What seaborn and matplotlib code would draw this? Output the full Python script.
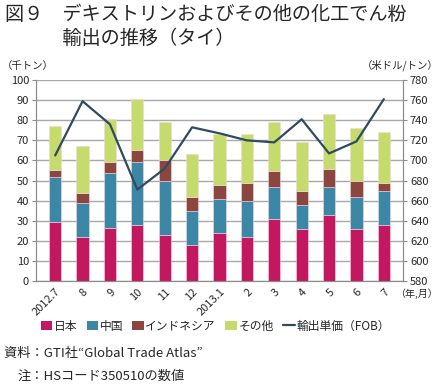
import matplotlib
matplotlib.use('Agg')
import pandas as pd
import seaborn as sns
import matplotlib.pyplot as plt
from matplotlib.patches import Patch
from matplotlib.lines import Line2D

# データ（千トン、米ドル/トン）
months = ['2012.7', '8', '9', '10', '11', '12', '2013.1', '2', '3', '4', '5', '6', '7']
japan = [29.5, 22, 26.5, 28, 23, 18, 24, 22, 31, 26, 33, 26, 28]
china = [22.5, 17, 27.5, 31, 27, 17, 17, 18, 16, 12, 14, 16, 17]
indonesia = [3.5, 5, 5, 6, 10, 7, 7, 9, 8, 7, 9, 8, 4]
others = [21.5, 23, 21.5, 25.5, 19, 21, 25, 24, 24, 24, 27, 26, 25]
price = [705, 759, 736, 671, 692, 733, 727, 720, 718, 741, 707, 719, 761]

series_names = ['日本', '中国', 'インドネシア', 'その他']
colors = ['#C2185F', '#3C87A6', '#8C4640', '#C5DC6C']
line_color = '#2E4B63'
line_name = '輸出単価（FOB）'

sns.set_style('white')
plt.rcParams['font.family'] = ['Noto Sans CJK JP', 'DejaVu Sans']

df = pd.DataFrame({'month': months, '日本': japan, '中国': china,
                   'インドネシア': indonesia, 'その他': others, 'price': price})

fig = plt.figure(figsize=(4.39, 3.85), dpi=100)
ax = fig.add_axes([0.082, 0.270, 0.836, 0.522])

# 積み上げ棒
bottom = [0] * len(months)
for name, color in zip(series_names, colors):
    sns.barplot(data=df, x='month', y=name, order=months, color=color,
                bottom=bottom, width=0.45, ax=ax, saturation=1,
                edgecolor='#f2d8e0', linewidth=0.4, zorder=3)
    bottom = [b + v for b, v in zip(bottom, df[name])]

ax.set_ylim(0, 100)
ax.set_yticks(range(0, 101, 10))
ax.set_xlim(-0.7, len(months) - 0.3)
ax.set_xlabel('')
ax.set_ylabel('')
ax.yaxis.grid(True, color='#a8a8a8', linewidth=1.0, zorder=0)
ax.set_axisbelow(True)
for s in ['left', 'bottom', 'right']:
    ax.spines[s].set_color('#8c8c8c')
ax.spines['top'].set_visible(False)
ax.tick_params(axis='y', labelsize=8, length=3, color='#8c8c8c', pad=2)
ax.tick_params(axis='x', labelsize=8, length=3, color='#8c8c8c', pad=1)
plt.setp(ax.get_xticklabels(), rotation=45, ha='right', rotation_mode='anchor')

# 折れ線（右軸）
ax2 = ax.twinx()
sns.lineplot(data=df, x='month', y='price', color=line_color, linewidth=1.6,
             ax=ax2, sort=False, zorder=5)
ax2.set_ylim(580, 780)
ax2.set_yticks(range(580, 781, 20))
ax2.set_ylabel('')
ax2.set_xlabel('')
ax2.set_xlim(-0.7, len(months) - 0.3)
for s in ['left', 'bottom', 'right']:
    ax2.spines[s].set_color('#8c8c8c')
ax2.spines['top'].set_visible(False)
ax2.tick_params(axis='y', labelsize=8, length=3, color='#8c8c8c', pad=2)

# タイトル・単位
fig.text(0.012, 0.99, '図９　デキストリンおよびその他の化工でん粉\n　　　輸出の推移（タイ）',
         fontsize=13.8, va='top', ha='left', linespacing=1.2)
fig.text(0.005, 0.815, '（千トン）', fontsize=7.5, va='bottom', ha='left')
fig.text(0.998, 0.815, '（米ドル/トン）', fontsize=7.5, va='bottom', ha='right')
fig.text(0.998, 0.250, '（年,月）', fontsize=7.2, va='top', ha='right')

# 凡例
handles = [Patch(facecolor=c, edgecolor='none') for c in colors]
handles.append(Line2D([0], [0], color=line_color, linewidth=1.6))
fig.legend(handles, series_names + [line_name], loc='center',
           bbox_to_anchor=(0.49, 0.153), ncol=5, frameon=False, fontsize=8.5,
           handlelength=1.0, handleheight=0.8, handletextpad=0.1,
           columnspacing=0.8)

# 出典・注
fig.text(0.01, 0.083, '資料：GTI社“Global Trade Atlas”', fontsize=9.5,
         va='center', ha='left')
fig.text(0.04, 0.022, '注：HSコード350510の数値', fontsize=9.5,
         va='center', ha='left')

fig.savefig('out.png', dpi=100)
plt.close()
